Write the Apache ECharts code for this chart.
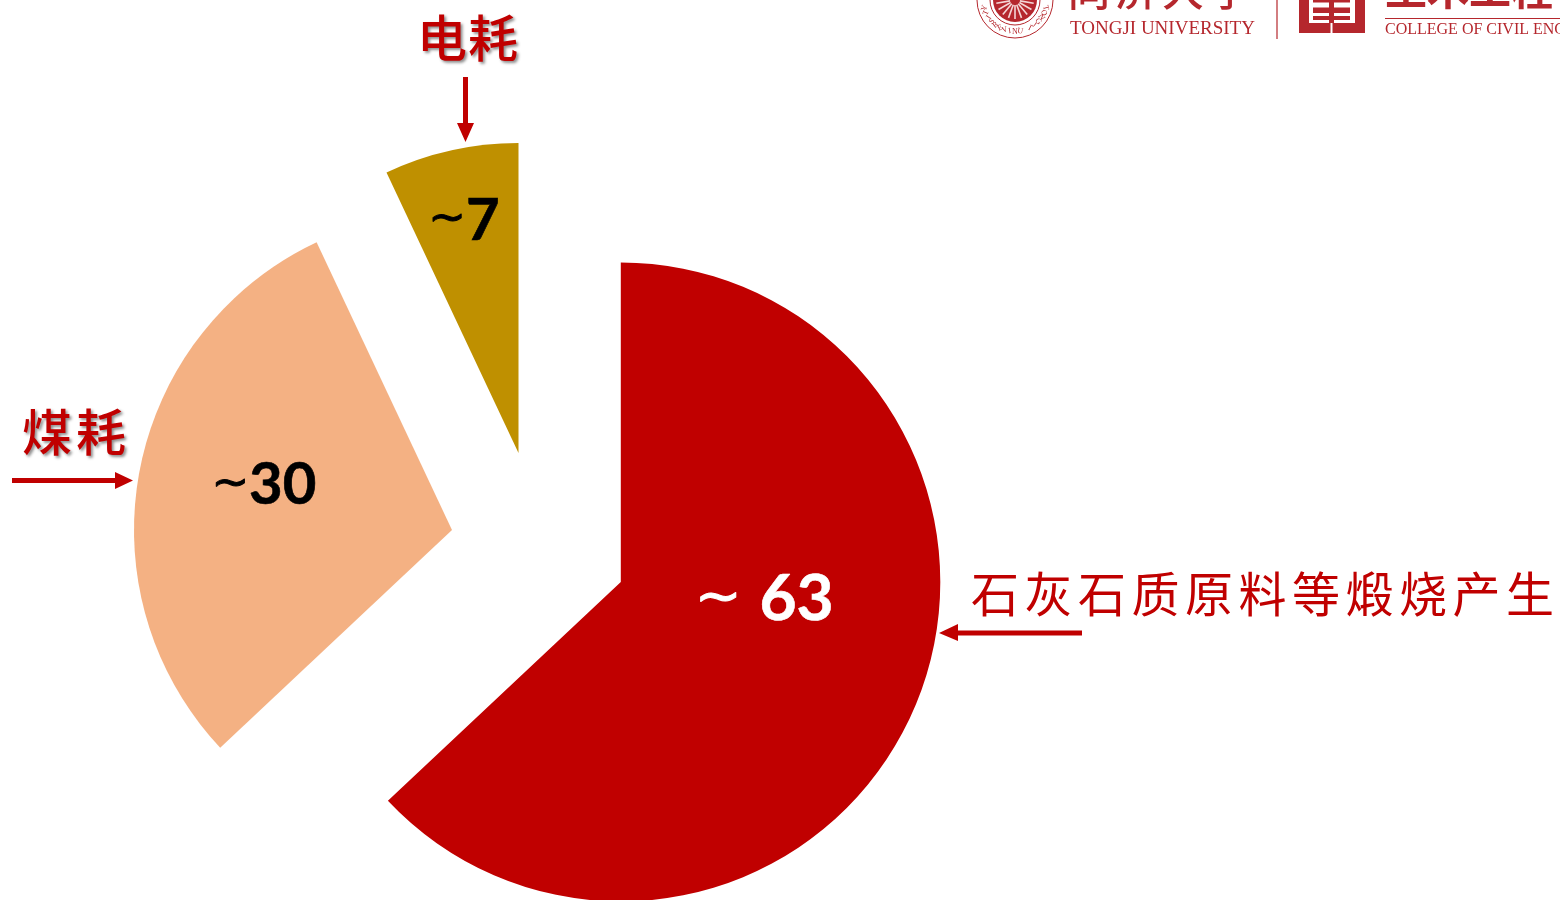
<!DOCTYPE html>
<html><head><meta charset="utf-8">
<style>html,body{margin:0;padding:0;background:#fff}#c{width:1560px;height:900px}</style>
<script src="https://cdn.jsdelivr.net/npm/echarts@6/dist/echarts.min.js"></script>
</head><body><div id="c"></div>
<script>
const categories = ['石灰石质原料等煅烧产生', '煤耗', '电耗'];
const values = [63, 30, 7];
const tildes = ['~ ', '~', '~'];
const colors = ['#c00000', '#F4B183', '#BF9000'];
const labelColors = ['#ffffff', '#000000', '#000000'];
const centers = [[620.8, 582], [452, 530], [518.5, 453]];
const radii = [319.5, 318, 310];
const labelOffsets = [[-6, -47], [-29, -14], [-20, -78]];
const labelSizes = [64, 58, 58];
const tildeSizes = [56, 45, 45];
const RED = '#c00000', LOGO = '#b5272d';

const series = values.map((_, i) => ({
  type: 'pie', silent: true, animation: false, startAngle: 90, clockwise: true,
  center: centers[i], radius: [0, radii[i]], avoidLabelOverlap: false,
  labelLine: { show: false },
  data: values.map((v, j) => ({
    name: categories[j], value: v,
    itemStyle: { color: j === i ? colors[j] : 'rgba(0,0,0,0)' },
    label: j === i ? {
      show: true, position: 'inside', offset: labelOffsets[j],
      formatter: `{t|${tildes[j]}}{n|${v}}`,
      rich: {
        t: { fontFamily: 'DejaVu Sans', fontSize: tildeSizes[j], color: labelColors[j], lineHeight: 70,
             textBorderColor: labelColors[j], textBorderWidth: 1 },
        n: { fontFamily: 'Lato', fontWeight: 'bold', fontSize: labelSizes[j], color: labelColors[j], lineHeight: 70,
             textBorderColor: labelColors[j], textBorderWidth: 0.6 }
      }
    } : { show: false }
  }))
}));

const g = [];
const cjk = '"Noto Sans CJK SC"';
function chars(str, x, y, pitch, size, shadow) {
  [...str].forEach((c, k) => g.push({ type: 'text', x: x + k * pitch, y, style: Object.assign({
    text: c, font: `${shadow ? 500 : 400} ${size}px ${cjk}`, fill: RED, textAlign: 'left', textVerticalAlign: 'middle'
  }, shadow ? { textShadowColor: 'rgba(0,0,0,0.45)', textShadowBlur: 3, textShadowOffsetX: 2, textShadowOffsetY: 2 } : {}) }));
}
chars(categories[0], 971, 594, 53.5, 48, false);
chars(categories[1], 22, 432, 54, 50, true);
chars(categories[2], 417, 38, 51, 50, true);

function arrow(pts) { g.push({ type: 'polygon', shape: { points: pts }, style: { fill: RED } }); }
arrow([[463, 77], [468, 77], [468, 123], [474, 123], [465.5, 142], [457, 123], [463, 123]]);
arrow([[12, 478], [115, 478], [115, 472], [133, 480.5], [115, 489], [115, 483], [12, 483]]);
arrow([[1082, 630.5], [958, 630.5], [958, 624], [939, 633], [958, 641], [958, 635.5], [1082, 635.5]]);

// header logos
g.push({ type: 'circle', shape: { cx: 1015, cy: 0, r: 38 }, style: { fill: 'none', stroke: LOGO, lineWidth: 1 } });
g.push({ type: 'circle', shape: { cx: 1015, cy: 0, r: 25 }, style: { fill: 'none', stroke: LOGO, lineWidth: 1 } });
g.push({ type: 'circle', shape: { cx: 1015, cy: 0, r: 22 }, style: { fill: LOGO } });
for (let d = -80; d <= 80; d += 20) {
  const a = d * Math.PI / 180;
  g.push({ type: 'line', shape: { x1: 1015 + Math.sin(a) * 5, y1: Math.cos(a) * 5, x2: 1015 + Math.sin(a) * 19, y2: Math.cos(a) * 19 },
    style: { stroke: '#f4d6d6', lineWidth: 1.6 } });
}
[...'TONGJI UNIVERSITY'].forEach((c, k) => {
  const a = (k - 8) * 0.165;
  g.push({ type: 'text', x: 1015 - Math.sin(a) * 31.5, y: Math.cos(a) * 31.5, rotation: a,
    style: { text: c, font: '8px "Liberation Serif"', fill: LOGO, textAlign: 'center', textVerticalAlign: 'middle' } });
});
[...'同济大学'].forEach((c, k) => g.push({ type: 'text', x: 1068 + k * 47, y: -10,
  style: { text: c, font: '500 42px "Noto Sans CJK SC"', fill: LOGO, textVerticalAlign: 'middle' } }));
g.push({ type: 'text', x: 1070, y: 29, style: { text: 'TONGJI UNIVERSITY', font: '19px "Liberation Serif"', fill: LOGO, textVerticalAlign: 'middle' } });
g.push({ type: 'line', shape: { x1: 1277, y1: 0, x2: 1277, y2: 39 }, style: { stroke: LOGO, lineWidth: 1.2 } });
g.push({ type: 'rect', shape: { x: 1299, y: 0, width: 66, height: 33 }, style: { fill: LOGO } });
[[1309, 0, 46, 23], [1330.5, 23, 2, 10]].forEach(r => g.push({ type: 'rect', shape: { x: r[0], y: r[1], width: r[2], height: r[3] }, style: { fill: '#fff' } }));
[[1313, 0, 37, 2.5], [1313, 7.5, 37, 5.5], [1313, 16, 37, 4], [1329, 2, 5, 21]].forEach(r => g.push({ type: 'rect', shape: { x: r[0], y: r[1], width: r[2], height: r[3] }, style: { fill: LOGO } }));
[...'土木工程'].forEach((c, k) => g.push({ type: 'text', x: 1385 + k * 42, y: -11,
  style: { text: c, font: '700 42px "Noto Sans CJK SC"', fill: LOGO, textVerticalAlign: 'middle' } }));
g.push({ type: 'line', shape: { x1: 1385, y1: 18.5, x2: 1560, y2: 18.5 }, style: { stroke: LOGO, lineWidth: 1 } });
g.push({ type: 'text', x: 1385, y: 29.5, style: { text: 'COLLEGE OF CIVIL ENGINEERING', font: '16px "Liberation Serif"', fill: LOGO, textVerticalAlign: 'middle' } });

const chart = echarts.init(document.getElementById('c'), null, { renderer: 'canvas' });
chart.setOption({ animation: false, backgroundColor: '#fff', series, graphic: { elements: g } });
</script></body></html>
